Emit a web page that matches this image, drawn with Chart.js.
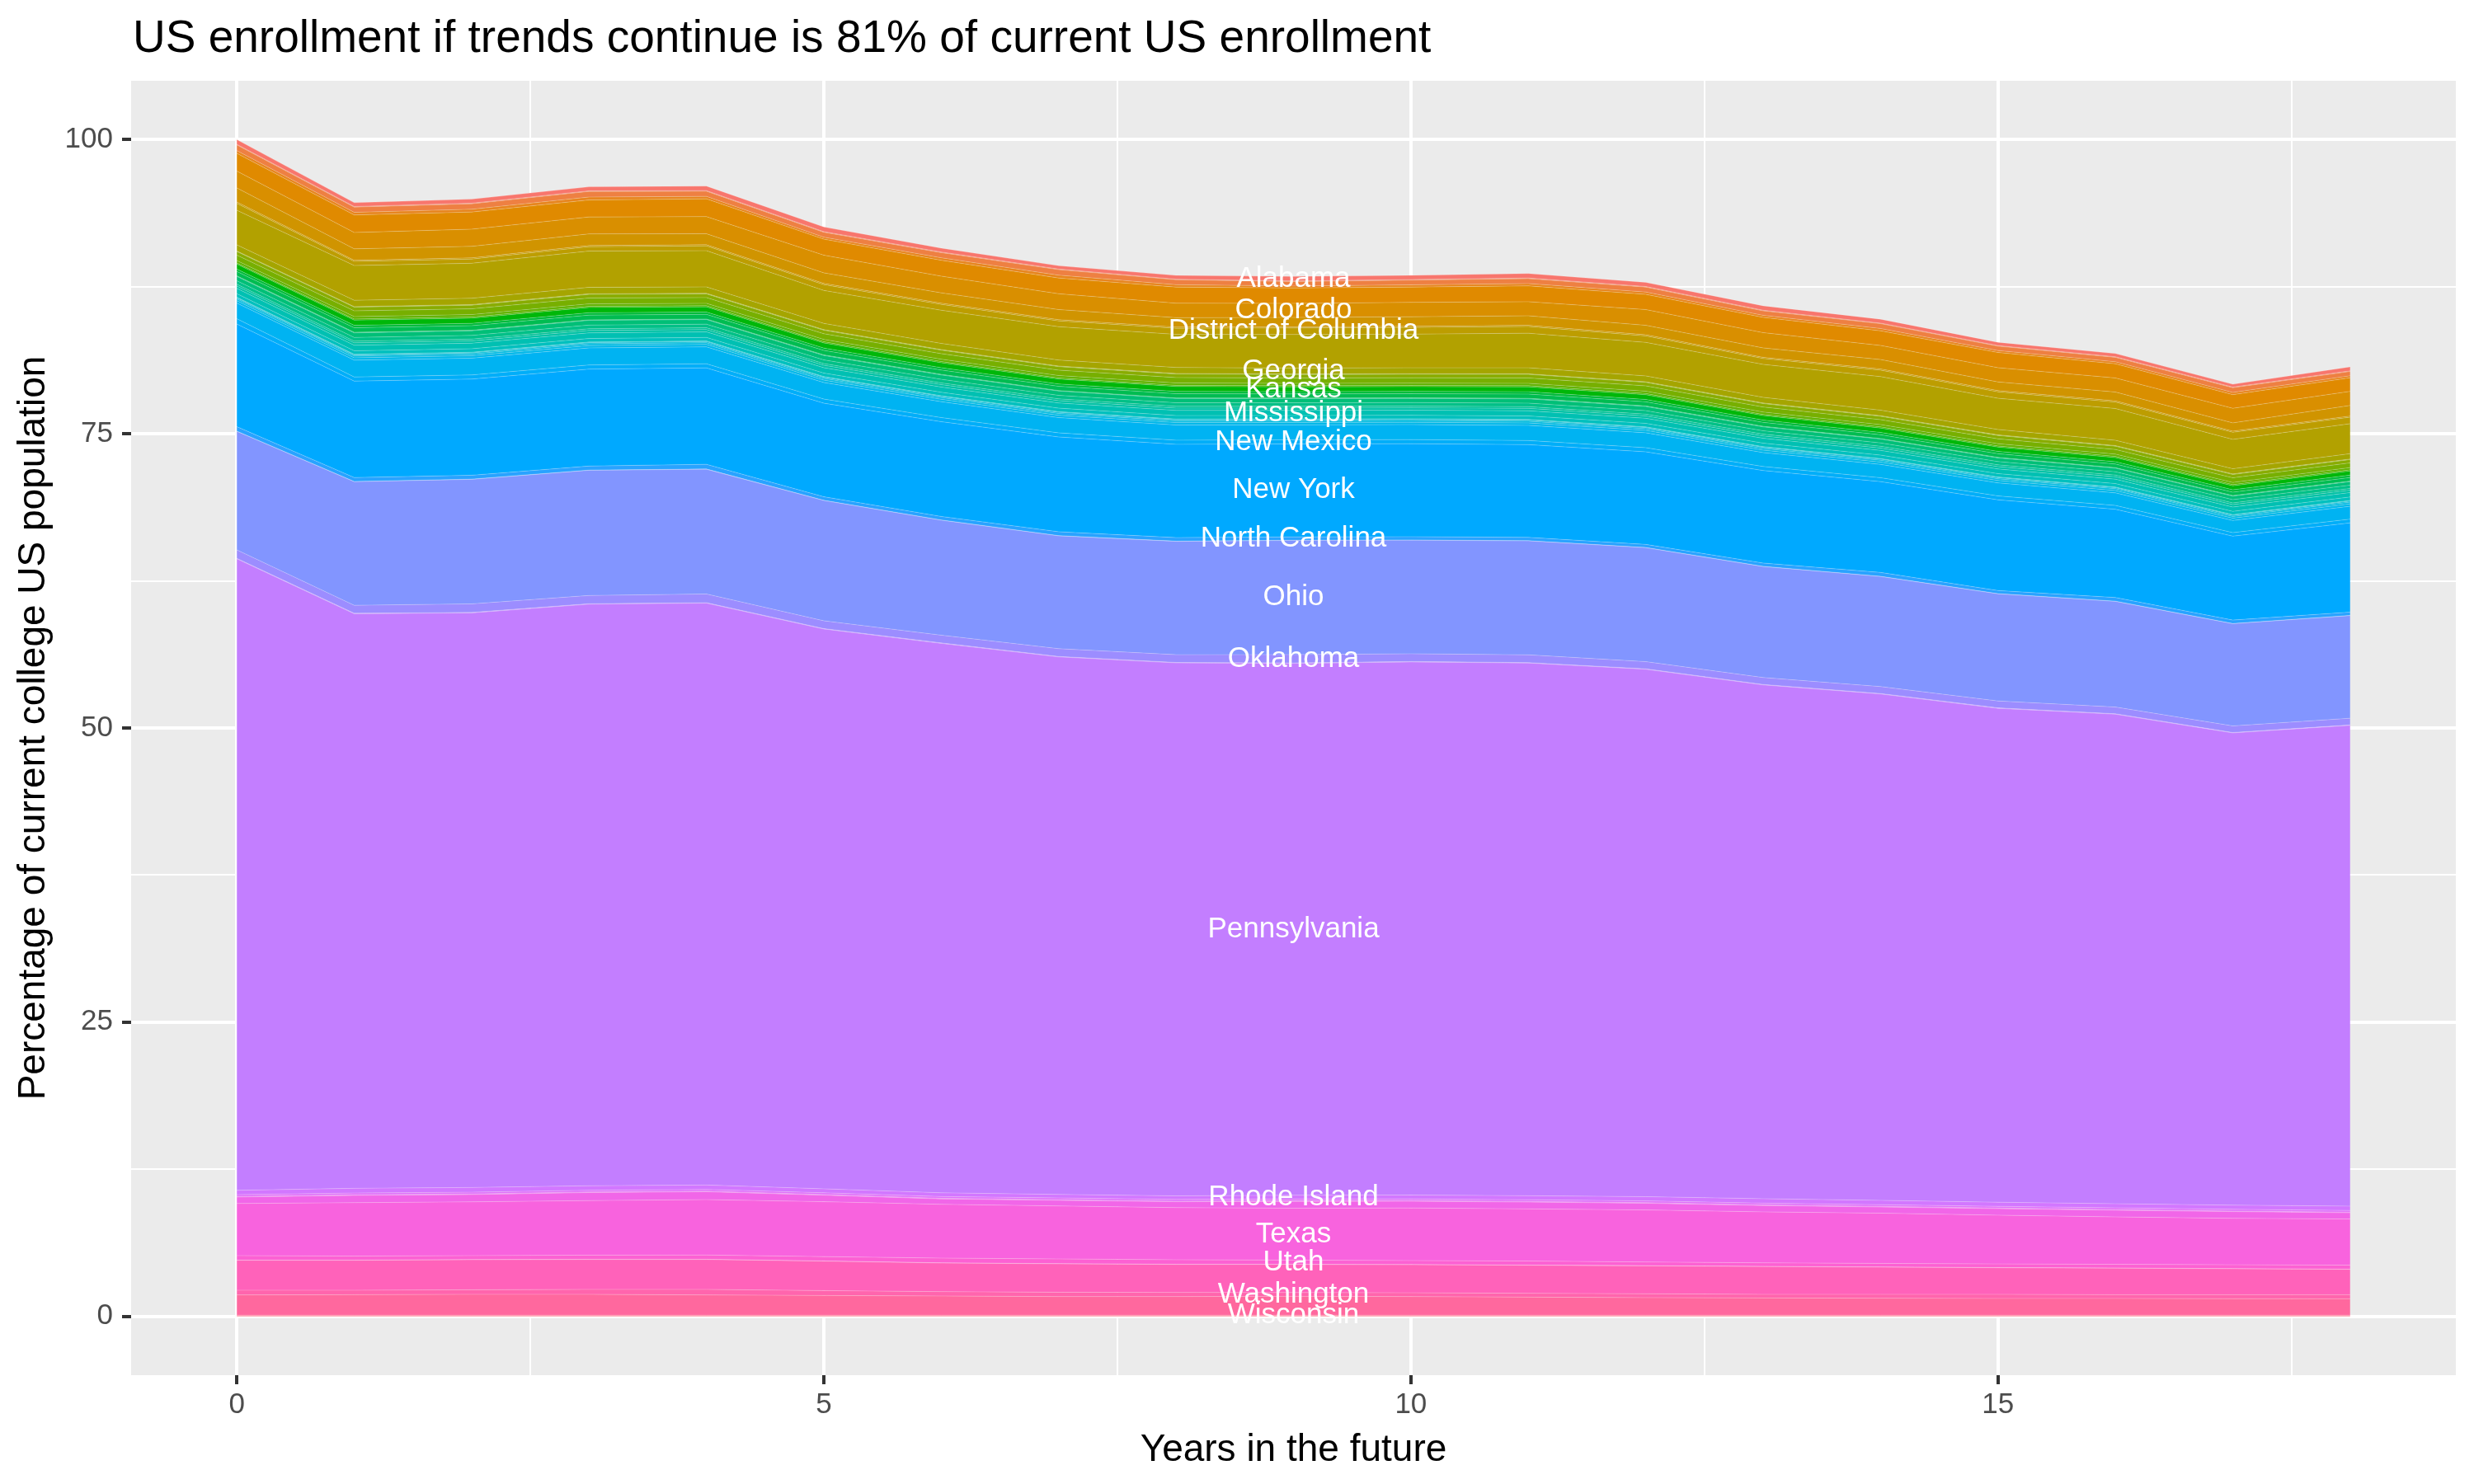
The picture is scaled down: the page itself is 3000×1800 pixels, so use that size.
<!DOCTYPE html>
<html>
<head>
<meta charset="utf-8">
<title>US enrollment if trends continue</title>
<script src="https://cdn.jsdelivr.net/npm/chart.js@4.4.1/dist/chart.umd.min.js"></script>
<style>
  html, body { margin: 0; padding: 0; background: #ffffff; }
  canvas { display: block; }
</style>
</head>
<body>
<canvas id="enrollmentChart" width="3000" height="1800" style="width:3000px;height:1800px"></canvas>
<script>
// Years in the future (x axis)
const years = [0, 1, 2, 3, 4, 5, 6, 7, 8, 9, 10, 11, 12, 13, 14, 15, 16, 17, 18];

// States in alphabetical order (Alabama ends up on top of the stack)
const states = ["Alabama", "Alaska", "Arizona", "Arkansas", "California", "Colorado", "Connecticut",
    "Delaware", "District of Columbia", "Florida", "Georgia", "Hawaii", "Idaho", "Illinois", "Indiana",
    "Iowa", "Kansas", "Kentucky", "Louisiana", "Maine", "Maryland", "Massachusetts", "Michigan",
    "Minnesota", "Mississippi", "Missouri", "Montana", "Nebraska", "Nevada", "New Hampshire",
    "New Jersey", "New Mexico", "New York", "North Carolina", "North Dakota", "Ohio", "Oklahoma",
    "Oregon", "Pennsylvania", "Rhode Island", "South Carolina", "South Dakota", "Tennessee", "Texas",
    "Utah", "Vermont", "Virginia", "Washington", "West Virginia", "Wisconsin", "Wyoming"];

// Percentage of current college US population, one array per state
const alabama = [0.40, 0.32, 0.34, 0.34, 0.38, 0.40, 0.33, 0.28, 0.32, 0.38, 0.36, 0.38, 0.35, 0.38, 0.33, 0.28, 0.27, 0.24, 0.34];
const alaska = [0.05, 0.05, 0.05, 0.05, 0.05, 0.05, 0.05, 0.05, 0.05, 0.05, 0.05, 0.05, 0.05, 0.05, 0.05, 0.05, 0.05, 0.05, 0.05];
const arizona = [0.48, 0.45, 0.47, 0.48, 0.44, 0.42, 0.44, 0.47, 0.42, 0.38, 0.40, 0.42, 0.42, 0.38, 0.41, 0.37, 0.38, 0.40, 0.37];
const arkansas = [0.23, 0.22, 0.23, 0.25, 0.21, 0.17, 0.21, 0.24, 0.20, 0.17, 0.19, 0.20, 0.20, 0.17, 0.20, 0.17, 0.17, 0.19, 0.17];
const california = [1.51, 1.49, 1.46, 1.44, 1.51, 1.36, 1.35, 1.34, 1.37, 1.30, 1.30, 1.34, 1.29, 1.30, 1.24, 1.29, 1.20, 1.16, 1.15];
const colorado = [1.43, 1.39, 1.46, 1.44, 1.46, 1.50, 1.42, 1.34, 1.23, 1.20, 1.22, 1.20, 1.34, 1.30, 1.20, 1.21, 1.20, 1.24, 1.20];
const connecticut = [1.20, 0.97, 0.98, 0.99, 0.93, 0.90, 0.88, 0.86, 0.80, 0.80, 0.81, 0.81, 0.80, 0.80, 0.80, 0.74, 0.75, 0.70, 0.90];
const delaware = [0.12, 0.10, 0.10, 0.10, 0.10, 0.10, 0.10, 0.10, 0.10, 0.10, 0.10, 0.10, 0.10, 0.10, 0.10, 0.10, 0.10, 0.10, 0.10];
const districtOfColumbia = [0.58, 0.35, 0.36, 0.37, 0.41, 0.50, 0.50, 0.50, 0.52, 0.55, 0.57, 0.57, 0.55, 0.50, 0.55, 0.55, 0.55, 0.60, 0.55];
const florida = [2.94, 2.95, 2.97, 3.08, 3.08, 2.80, 2.82, 2.83, 2.81, 2.85, 2.86, 2.94, 2.85, 2.80, 2.85, 2.65, 2.70, 2.50, 2.55];
const georgia = [0.52, 0.54, 0.54, 0.55, 0.54, 0.53, 0.52, 0.51, 0.51, 0.50, 0.50, 0.51, 0.50, 0.48, 0.47, 0.46, 0.45, 0.44, 0.45];
const hawaii = [0.05, 0.05, 0.05, 0.05, 0.05, 0.05, 0.05, 0.05, 0.05, 0.05, 0.05, 0.05, 0.05, 0.05, 0.05, 0.05, 0.05, 0.05, 0.05];
const idaho = [0.30, 0.31, 0.31, 0.31, 0.31, 0.30, 0.30, 0.30, 0.30, 0.30, 0.30, 0.30, 0.30, 0.29, 0.29, 0.29, 0.28, 0.28, 0.28];
const illinois = [0.47, 0.49, 0.49, 0.50, 0.49, 0.48, 0.47, 0.46, 0.46, 0.45, 0.45, 0.46, 0.45, 0.43, 0.42, 0.41, 0.40, 0.39, 0.40];
const indiana = [0.20, 0.20, 0.20, 0.20, 0.20, 0.20, 0.20, 0.20, 0.20, 0.20, 0.20, 0.20, 0.20, 0.20, 0.19, 0.19, 0.19, 0.19, 0.19];
const iowa = [0.10, 0.10, 0.10, 0.10, 0.10, 0.10, 0.10, 0.10, 0.10, 0.10, 0.10, 0.10, 0.10, 0.10, 0.10, 0.10, 0.10, 0.10, 0.10];
const kansas = [0.42, 0.44, 0.44, 0.45, 0.44, 0.43, 0.42, 0.41, 0.41, 0.40, 0.40, 0.41, 0.40, 0.38, 0.37, 0.36, 0.35, 0.34, 0.35];
const kentucky = [0.20, 0.20, 0.20, 0.20, 0.20, 0.20, 0.20, 0.20, 0.20, 0.20, 0.20, 0.20, 0.20, 0.20, 0.20, 0.20, 0.20, 0.20, 0.20];
const louisiana = [0.37, 0.39, 0.39, 0.40, 0.39, 0.38, 0.37, 0.36, 0.36, 0.35, 0.35, 0.36, 0.35, 0.33, 0.32, 0.31, 0.30, 0.29, 0.30];
const maine = [0.05, 0.05, 0.05, 0.05, 0.05, 0.05, 0.05, 0.05, 0.05, 0.05, 0.05, 0.05, 0.05, 0.05, 0.05, 0.05, 0.05, 0.05, 0.05];
const maryland = [0.37, 0.39, 0.39, 0.40, 0.39, 0.38, 0.37, 0.36, 0.36, 0.35, 0.35, 0.36, 0.35, 0.33, 0.32, 0.31, 0.30, 0.29, 0.30];
const massachusetts = [0.30, 0.31, 0.31, 0.31, 0.31, 0.31, 0.30, 0.30, 0.30, 0.30, 0.30, 0.30, 0.30, 0.29, 0.29, 0.28, 0.28, 0.28, 0.28];
const michigan = [0.15, 0.15, 0.15, 0.15, 0.15, 0.15, 0.15, 0.15, 0.15, 0.15, 0.15, 0.15, 0.15, 0.15, 0.15, 0.15, 0.15, 0.15, 0.15];
const minnesota = [0.20, 0.20, 0.20, 0.20, 0.20, 0.20, 0.20, 0.20, 0.20, 0.20, 0.20, 0.20, 0.20, 0.20, 0.20, 0.20, 0.20, 0.20, 0.20];
const mississippi = [0.45, 0.47, 0.47, 0.48, 0.47, 0.46, 0.45, 0.44, 0.44, 0.43, 0.43, 0.44, 0.43, 0.41, 0.40, 0.39, 0.38, 0.37, 0.38];
const missouri = [0.30, 0.30, 0.30, 0.30, 0.30, 0.30, 0.30, 0.30, 0.30, 0.30, 0.30, 0.30, 0.30, 0.30, 0.29, 0.29, 0.29, 0.28, 0.29];
const montana = [0.05, 0.05, 0.05, 0.05, 0.05, 0.05, 0.05, 0.05, 0.05, 0.05, 0.05, 0.05, 0.05, 0.05, 0.05, 0.05, 0.05, 0.05, 0.05];
const nebraska = [0.10, 0.10, 0.10, 0.10, 0.10, 0.10, 0.10, 0.10, 0.10, 0.10, 0.10, 0.10, 0.10, 0.10, 0.10, 0.10, 0.10, 0.10, 0.10];
const nevada = [0.15, 0.15, 0.15, 0.15, 0.15, 0.15, 0.15, 0.15, 0.15, 0.15, 0.15, 0.15, 0.15, 0.15, 0.15, 0.15, 0.15, 0.15, 0.15];
const newHampshire = [0.20, 0.20, 0.20, 0.20, 0.20, 0.20, 0.20, 0.20, 0.20, 0.20, 0.20, 0.20, 0.20, 0.20, 0.20, 0.20, 0.20, 0.20, 0.20];
const newJersey = [1.33, 1.43, 1.43, 1.45, 1.44, 1.41, 1.35, 1.30, 1.29, 1.27, 1.27, 1.29, 1.27, 1.19, 1.13, 1.11, 1.07, 1.03, 1.09];
const newMexico = [0.45, 0.35, 0.35, 0.35, 0.35, 0.35, 0.35, 0.35, 0.35, 0.35, 0.35, 0.35, 0.35, 0.34, 0.33, 0.33, 0.32, 0.30, 0.32];
const newYork = [8.72, 8.19, 8.17, 8.24, 8.19, 7.95, 8.05, 8.05, 7.93, 7.90, 7.90, 7.88, 7.87, 7.86, 7.72, 7.71, 7.50, 7.13, 7.58];
const northCarolina = [0.38, 0.34, 0.33, 0.34, 0.40, 0.30, 0.30, 0.33, 0.30, 0.28, 0.28, 0.28, 0.26, 0.28, 0.33, 0.26, 0.31, 0.29, 0.28];
const northDakota = [0.02, 0.02, 0.02, 0.02, 0.02, 0.02, 0.02, 0.02, 0.02, 0.02, 0.02, 0.02, 0.02, 0.02, 0.02, 0.02, 0.02, 0.02, 0.02];
const ohio = [10.07, 10.50, 10.58, 10.64, 10.60, 10.22, 9.77, 9.59, 9.63, 9.70, 9.65, 9.68, 9.68, 9.43, 9.35, 9.10, 8.98, 8.68, 8.72];
const oklahoma = [0.72, 0.68, 0.73, 0.70, 0.74, 0.66, 0.66, 0.66, 0.66, 0.71, 0.66, 0.66, 0.61, 0.59, 0.59, 0.59, 0.57, 0.56, 0.57];
const oregon = [0.04, 0.04, 0.04, 0.04, 0.04, 0.04, 0.04, 0.04, 0.04, 0.04, 0.04, 0.04, 0.04, 0.04, 0.04, 0.04, 0.04, 0.04, 0.04];
const pennsylvania = [53.67, 48.83, 48.83, 49.42, 49.45, 47.57, 46.69, 45.68, 45.29, 45.19, 45.30, 45.27, 44.82, 43.66, 43.03, 41.97, 41.60, 40.13, 40.85];
const rhodeIsland = [0.37, 0.40, 0.40, 0.38, 0.37, 0.34, 0.32, 0.30, 0.30, 0.33, 0.33, 0.34, 0.36, 0.38, 0.37, 0.35, 0.35, 0.35, 0.37];
const southCarolina = [0.15, 0.15, 0.15, 0.15, 0.15, 0.15, 0.15, 0.15, 0.15, 0.15, 0.15, 0.15, 0.15, 0.15, 0.15, 0.15, 0.15, 0.15, 0.15];
const southDakota = [0.05, 0.05, 0.05, 0.05, 0.05, 0.05, 0.05, 0.05, 0.05, 0.05, 0.05, 0.05, 0.05, 0.05, 0.05, 0.05, 0.05, 0.05, 0.05];
const tennessee = [0.55, 0.62, 0.62, 0.68, 0.67, 0.56, 0.46, 0.48, 0.50, 0.58, 0.57, 0.58, 0.57, 0.54, 0.52, 0.55, 0.57, 0.57, 0.53];
const texas = [4.43, 4.54, 4.57, 4.64, 4.71, 4.66, 4.57, 4.50, 4.43, 4.41, 4.47, 4.43, 4.42, 4.33, 4.27, 4.15, 4.03, 3.95, 3.92];
const utah = [0.38, 0.34, 0.33, 0.35, 0.36, 0.37, 0.40, 0.40, 0.38, 0.35, 0.34, 0.34, 0.31, 0.30, 0.30, 0.30, 0.31, 0.32, 0.34];
const vermont = [0.02, 0.02, 0.02, 0.02, 0.02, 0.02, 0.02, 0.02, 0.02, 0.02, 0.02, 0.02, 0.02, 0.02, 0.02, 0.02, 0.02, 0.02, 0.02];
const virginia = [2.54, 2.54, 2.55, 2.54, 2.54, 2.50, 2.43, 2.41, 2.38, 2.39, 2.38, 2.38, 2.37, 2.36, 2.31, 2.26, 2.25, 2.20, 2.15];
const washington = [0.40, 0.38, 0.39, 0.42, 0.47, 0.42, 0.37, 0.37, 0.35, 0.32, 0.32, 0.33, 0.33, 0.31, 0.33, 0.35, 0.32, 0.34, 0.35];
const westVirginia = [1.72, 1.74, 1.77, 1.77, 1.72, 1.67, 1.63, 1.58, 1.58, 1.60, 1.58, 1.53, 1.49, 1.46, 1.44, 1.42, 1.42, 1.40, 1.39];
const wisconsin = [0.07, 0.07, 0.07, 0.07, 0.07, 0.07, 0.07, 0.07, 0.07, 0.07, 0.07, 0.07, 0.07, 0.07, 0.07, 0.07, 0.07, 0.07, 0.07];
const wyoming = [0.03, 0.03, 0.03, 0.03, 0.03, 0.03, 0.03, 0.03, 0.03, 0.03, 0.03, 0.03, 0.03, 0.03, 0.03, 0.03, 0.03, 0.03, 0.03];

const stateValues = [alabama, alaska, arizona, arkansas, california, colorado, connecticut, delaware,
    districtOfColumbia, florida, georgia, hawaii, idaho, illinois, indiana, iowa, kansas, kentucky,
    louisiana, maine, maryland, massachusetts, michigan, minnesota, mississippi, missouri, montana,
    nebraska, nevada, newHampshire, newJersey, newMexico, newYork, northCarolina, northDakota, ohio,
    oklahoma, oregon, pennsylvania, rhodeIsland, southCarolina, southDakota, tennessee, texas, utah,
    vermont, virginia, washington, westVirginia, wisconsin, wyoming];

// Axis ticks
const xMajorTicks = [0, 5, 10, 15];
const xMinorTicks = [2.5, 7.5, 12.5, 17.5];
const yMajorTicks = [0, 25, 50, 75, 100];
const yMinorTicks = [12.5, 37.5, 62.5, 87.5];

// Labels placed in the middle of each band at this year
const labelYear = 9;
const labelledStates = ["Alabama", "Colorado", "District of Columbia", "Georgia", "Kansas", "Mississippi",
    "New Mexico", "New York", "North Carolina", "Ohio", "Oklahoma", "Pennsylvania", "Rhode Island",
    "Texas", "Utah", "Washington", "Wisconsin"];

const chartTitle = "US enrollment if trends continue is 81% of current US enrollment";

// ggplot-like hue palette (HCL, c = 100, l = 65)
function hueColor(i, n) {
    const h = (15 + i * 360 / n) * Math.PI / 180;
    const L = 65, U = 100 * Math.cos(h), V = 100 * Math.sin(h);
    const Y = 100 * Math.pow((L + 16) / 116, 3);
    const u = U / (13 * L) + 0.1978398;
    const v = V / (13 * L) + 0.4683363;
    const X = 9 * Y * u / (4 * v);
    const Z = -X / 3 - 5 * Y + 3 * Y / v;
    const gt = (c) => {
        c = c > 0.00304 ? 1.055 * Math.pow(c, 1 / 2.4) - 0.055 : 12.92 * c;
        return Math.round(255 * Math.min(1, Math.max(0, c)));
    };
    const r = gt((3.240479 * X - 1.537150 * Y - 0.498535 * Z) / 100);
    const g = gt((-0.969256 * X + 1.875992 * Y + 0.041556 * Z) / 100);
    const b = gt((0.055648 * X - 0.204043 * Y + 1.057311 * Z) / 100);
    return `rgb(${r}, ${g}, ${b})`;
}

// Bottom of the stack is the last state, so reverse
const datasets = states.map((name, i) => ({
    label: name,
    data: years.map((yr, j) => ({ x: yr, y: stateValues[i][j] })),
    backgroundColor: hueColor(i, states.length),
    borderColor: "rgba(255, 255, 255, 0.22)",
    borderWidth: 1,
    pointRadius: 0,
    tension: 0,
})).reverse();
datasets.forEach((d, k) => { d.fill = k === 0 ? "origin" : "-1"; });

const FONT = "'Liberation Sans', Arial, Helvetica, sans-serif";
Chart.defaults.font.family = FONT;

const panelBackground = {
    id: "panelBackground",
    beforeDraw(chart) {
        const { ctx, chartArea: a } = chart;
        ctx.save();
        ctx.fillStyle = "#EBEBEB";
        ctx.fillRect(a.left, a.top, a.right - a.left, a.bottom - a.top);
        ctx.restore();
    }
};

const bandLabels = {
    id: "bandLabels",
    afterDatasetsDraw(chart) {
        const ctx = chart.ctx;
        const j = years.indexOf(labelYear);
        const names = chart.data.datasets.map(d => d.label);
        ctx.save();
        ctx.font = "35px " + FONT;
        ctx.fillStyle = "#ffffff";
        ctx.textAlign = "center";
        ctx.textBaseline = "middle";
        labelledStates.forEach(name => {
            const k = names.indexOf(name);
            const top = chart.getDatasetMeta(k).data[j];
            const bottom = k > 0 ? chart.getDatasetMeta(k - 1).data[j].y : chart.scales.y.getPixelForValue(0);
            ctx.fillText(name, top.x, (top.y + bottom) / 2);
        });
        ctx.restore();
    }
};

const plotTitle = {
    id: "plotTitle",
    afterDraw(chart) {
        const ctx = chart.ctx;
        ctx.save();
        ctx.font = "55px " + FONT;
        ctx.fillStyle = "#000000";
        ctx.textAlign = "left";
        ctx.textBaseline = "alphabetic";
        ctx.fillText(chartTitle, 161, 63);
        ctx.restore();
    }
};

const isMajorX = v => xMajorTicks.includes(v);
const isMajorY = v => yMajorTicks.includes(v);

new Chart(document.getElementById("enrollmentChart"), {
    type: "line",
    data: { datasets: datasets },
    plugins: [panelBackground, bandLabels, plotTitle],
    options: {
        responsive: false,
        devicePixelRatio: 1,
        animation: false,
        layout: { padding: { top: 98, right: 22, left: 0, bottom: 0 } },
        plugins: { legend: { display: false }, tooltip: { enabled: false } },
        elements: { line: { tension: 0 } },
        scales: {
            x: {
                type: "linear",
                min: -0.9,
                max: 18.9,
                afterBuildTicks(scale) {
                    scale.ticks = xMajorTicks.concat(xMinorTicks).sort((a, b) => a - b).map(v => ({ value: v }));
                },
                afterFit(scale) { scale.height = 132; },
                border: { display: false },
                grid: {
                    color: "#ffffff",
                    lineWidth: c => (c.tick && isMajorX(c.tick.value) ? 4 : 2),
                    tickLength: 11,
                    tickColor: c => (c.tick && isMajorX(c.tick.value) ? "#333333" : "rgba(0,0,0,0)"),
                    tickWidth: 4,
                },
                ticks: {
                    autoSkip: false,
                    maxRotation: 0,
                    padding: 4,
                    color: "#4D4D4D",
                    font: { size: 35 },
                    callback: v => (isMajorX(v) ? String(v) : ""),
                },
                title: {
                    display: true,
                    text: "Years in the future",
                    color: "#000000",
                    font: { size: 46, lineHeight: 1 },
                    padding: { top: 0, bottom: 18 },
                },
            },
            y: {
                stacked: true,
                min: -5,
                max: 105,
                afterBuildTicks(scale) {
                    scale.ticks = yMajorTicks.concat(yMinorTicks).sort((a, b) => a - b).map(v => ({ value: v }));
                },
                afterFit(scale) { scale.width = 159; },
                border: { display: false },
                grid: {
                    color: "#ffffff",
                    lineWidth: c => (c.tick && isMajorY(c.tick.value) ? 4 : 2),
                    tickLength: 11,
                    tickColor: c => (c.tick && isMajorY(c.tick.value) ? "#333333" : "rgba(0,0,0,0)"),
                    tickWidth: 4,
                },
                ticks: {
                    autoSkip: false,
                    padding: 11,
                    color: "#4D4D4D",
                    font: { size: 35 },
                    callback: v => (isMajorY(v) ? String(v) : ""),
                },
                title: {
                    display: true,
                    text: "Percentage of current college US population",
                    color: "#000000",
                    font: { size: 46, lineHeight: 1 },
                    padding: { top: 18, bottom: 0 },
                },
            },
        },
    },
});
</script>
</body>
</html>
